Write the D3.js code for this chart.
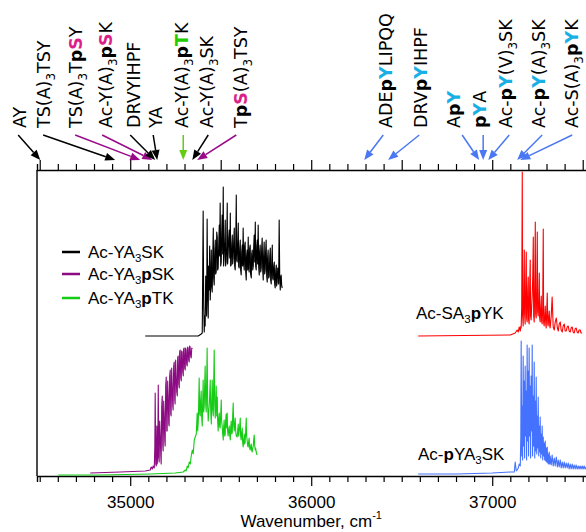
<!DOCTYPE html>
<html>
<head>
<meta charset="utf-8">
<script src="https://cdn.jsdelivr.net/npm/d3@7"></script>
<style>
  body { margin: 0; background: #fff; }
  svg { display: block; font-family: "Liberation Sans", Arial, sans-serif; }
</style>
</head>
<body>
<div id="chart"></div>
<script>
// traces: [wavenumber cm-1, intensity arb.]
const ysk = [[35083,0],[35376,0],[35392,2],[35398,3],[35403,125],[35406,30],[35409,4],[35411,20],[35414,10],[35417,60],
  [35420,36],[35422,20],[35425,117],[35428,40],[35431,18],[35433,70],[35436,46],[35439,90],[35442,36],[35445,55],
  [35448,86],[35450,50],[35453,44],[35456,80],[35459,108],[35461,58],[35464,51],[35467,85],[35470,96],[35472,62],
  [35475,64],[35478,104],[35481,99],[35483,66],[35486,68],[35489,92],[35492,111],[35494,80],[35497,133],[35500,70],
  [35503,74],[35505,100],[35508,121],[35511,82],[35514,149],[35516,70],[35519,78],[35522,95],[35525,116],[35527,70],
  [35530,74],[35533,90],[35536,133],[35538,72],[35541,81],[35544,98],[35547,106],[35550,78],[35553,123],[35555,70],
  [35558,71],[35561,92],[35564,101],[35566,72],[35569,78],[35572,96],[35575,108],[35577,70],[35580,66],[35583,92],
  [35586,141],[35588,76],[35591,74],[35594,95],[35597,113],[35599,70],[35602,68],[35605,88],[35608,96],[35610,66],
  [35613,61],[35616,84],[35619,91],[35621,70],[35624,108],[35627,72],[35630,66],[35632,90],[35635,94],[35638,64],
  [35641,56],[35643,80],[35646,86],[35649,66],[35652,99],[35654,70],[35657,64],[35660,88],[35663,91],[35665,62],
  [35669,58],[35671,82],[35674,86],[35677,66],[35680,70],[35682,88],[35685,101],[35688,74],[35691,114],[35693,70],
  [35696,66],[35699,90],[35702,96],[35704,72],[35707,111],[35710,68],[35713,61],[35715,84],[35718,91],[35721,64],
  [35724,68],[35726,86],[35729,98],[35732,66],[35735,56],[35737,80],[35740,94],[35743,62],[35746,66],[35748,84],
  [35751,96],[35754,60],[35757,54],[35759,78],[35762,86],[35765,58],[35768,60],[35771,80],[35774,88],[35776,56],
  [35779,52],[35782,76],[35785,91],[35787,58],[35790,56],[35793,70],[35796,74],[35798,52],[35801,48],[35804,66],
  [35807,71],[35809,50],[35812,54],[35815,68],[35818,66],[35820,52],[35823,116],[35826,60],[35829,46],[35831,58],
  [35834,61],[35837,50],[35840,48]];

const ypsk = [[34779,3],[34945,4],[35083,5],[35111,6],[35116,9],[35122,7],[35127,10],[35133,8],[35136,30],[35138,83],
  [35141,12],[35144,10],[35147,50],[35149,12],[35152,20],[35155,91],[35158,18],[35160,14],[35163,55],[35166,40],
  [35169,20],[35171,12],[35174,70],[35177,80],[35180,30],[35182,25],[35185,75],[35188,60],[35191,35],[35193,30],
  [35196,90],[35199,99],[35202,45],[35204,45],[35207,95],[35210,80],[35213,52],[35215,50],[35218,100],[35221,106],
  [35224,62],[35226,60],[35229,108],[35232,90],[35235,70],[35237,66],[35240,110],[35243,114],[35246,76],[35248,72],
  [35251,116],[35254,100],[35257,84],[35260,80],[35262,118],[35265,120],[35268,92],[35271,88],[35273,124],[35276,126],
  [35279,98],[35282,95],[35284,125],[35287,124],[35290,104],[35293,100],[35295,127],[35298,128],[35301,108],[35304,106],
  [35306,128],[35309,126],[35312,112],[35315,110],[35317,129],[35320,128],[35323,116],[35326,114],[35328,130],[35331,129],
  [35334,120],[35337,118],[35340,128],[35343,127]];

const yptk = [[34602,1],[34834,1],[35111,2],[35249,3],[35293,4],[35304,6],[35309,5],[35315,10],[35320,8],[35326,14],
  [35332,12],[35337,20],[35343,26],[35348,22],[35354,36],[35359,39],[35365,42],[35370,63],[35373,45],[35376,55],
  [35378,70],[35381,98],[35384,62],[35387,60],[35389,75],[35392,85],[35395,58],[35398,50],[35400,70],[35403,96],
  [35406,64],[35409,70],[35411,88],[35414,110],[35417,72],[35420,64],[35422,90],[35425,128],[35428,70],[35431,55],
  [35433,62],[35436,69],[35439,80],[35442,96],[35445,64],[35448,52],[35450,70],[35453,96],[35456,66],[35459,60],
  [35461,90],[35464,126],[35467,72],[35470,58],[35472,70],[35475,90],[35478,60],[35481,79],[35483,55],[35486,45],
  [35489,58],[35492,63],[35494,50],[35497,48],[35500,62],[35503,76],[35505,55],[35508,50],[35511,42],[35514,36],
  [35516,48],[35519,56],[35522,40],[35525,42],[35527,55],[35530,62],[35533,48],[35536,63],[35538,45],[35541,40],
  [35544,46],[35547,50],[35550,40],[35553,36],[35555,48],[35558,55],[35561,42],[35564,44],[35566,60],[35569,73],
  [35572,50],[35575,45],[35577,52],[35580,58],[35583,44],[35586,40],[35591,39],[35594,46],[35597,52],[35599,40],
  [35602,44],[35605,50],[35608,58],[35610,40],[35613,36],[35616,44],[35619,48],[35621,34],[35624,29],[35627,36],
  [35630,42],[35632,32],[35635,34],[35638,45],[35641,58],[35643,40],[35646,36],[35649,30],[35652,29],[35654,34],
  [35657,38],[35660,28],[35663,26],[35666,30],[35669,32],[35671,26],[35674,24],[35677,28],[35680,30],[35682,36],
  [35685,41],[35688,30],[35691,26],[35693,28],[35696,24],[35699,22],[35702,21]];

const sapyk = [[36591,0],[37100,1],[37127,3],[37138,6],[37144,4],[37149,9],[37155,5],[37158,10],[37160,8],[37163,30],
  [37166,164],[37168,20],[37171,10],[37174,40],[37177,86],[37179,22],[37182,12],[37185,50],[37188,84],[37190,18],
  [37193,14],[37196,45],[37199,59],[37201,16],[37204,12],[37207,50],[37210,76],[37212,20],[37215,16],[37218,30],
  [37221,40],[37224,60],[37227,99],[37229,20],[37232,14],[37235,50],[37238,114],[37240,22],[37243,18],[37246,45],
  [37249,104],[37251,24],[37254,20],[37257,35],[37260,63],[37262,18],[37265,14],[37268,28],[37271,40],[37273,15],
  [37276,12],[37279,30],[37282,107],[37284,14],[37287,10],[37290,20],[37293,30],[37296,12],[37298,8],[37301,22],
  [37304,43],[37307,12],[37309,10],[37312,18],[37315,25],[37318,10],[37320,8],[37326,20],[37331,39],[37337,9],
  [37343,6],[37348,14],[37354,18],[37360,8],[37365,5],[37370,12],[37376,14],[37381,6],[37387,4],[37392,10],
  [37398,12],[37403,5],[37409,5],[37414,9],[37420,10],[37425,5],[37431,4],[37436,8],[37442,9],[37447,4],
  [37453,3],[37458,7],[37464,8],[37469,4],[37475,3],[37480,6],[37486,6],[37491,3],[37497,3]];

const pyask = [[36591,2],[36800,2],[37000,3],[37100,4],[37122,4],[37127,14],[37133,5],[37138,6],[37144,8],[37149,12],
  [37155,10],[37158,40],[37160,135],[37163,20],[37166,70],[37168,16],[37171,120],[37174,30],[37177,95],[37179,18],
  [37182,110],[37185,40],[37188,85],[37190,16],[37193,131],[37196,35],[37199,105],[37201,20],[37204,128],[37207,40],
  [37210,90],[37212,18],[37215,100],[37218,45],[37221,131],[37223,20],[37227,80],[37229,30],[37232,114],[37235,18],
  [37238,75],[37240,25],[37243,99],[37246,22],[37249,60],[37251,28],[37254,79],[37257,20],[37260,50],[37262,24],
  [37265,59],[37268,18],[37271,42],[37273,22],[37276,50],[37279,16],[37282,39],[37284,20],[37287,33],[37290,16],
  [37293,35],[37296,15],[37298,28],[37301,14],[37304,29],[37307,13],[37309,22],[37312,12],[37315,24],[37318,12],
  [37320,20],[37326,11],[37331,21],[37337,10],[37343,18],[37348,10],[37354,19],[37360,9],[37365,16],[37370,9],
  [37376,16],[37381,8],[37387,14],[37392,8],[37398,14],[37403,8],[37409,13],[37414,8],[37420,13],[37425,7],
  [37431,12],[37436,7],[37442,12],[37447,7],[37453,11],[37458,7],[37464,11],[37469,7],[37475,10],[37480,7],
  [37486,10],[37491,7],[37497,10],[37502,7],[37508,10],[37513,7],[37519,9]];

const seriesNames = ["Ac-YA_3SK", "Ac-YA_3*pSK", "Ac-YA_3*pTK", "Ac-SA_3*pYK", "Ac-*pYA_3SK"];
const seriesData = [ysk, ypsk, yptk, sapyk, pyask];
const seriesOffsets = [140, 0, 0, 140, 0];
const seriesColors = ["#000000", "#8c0a82", "#14cc14", "#ff0000", "#4472ff"];

// band assignments on top: label text, arrow tail and tip (cm-1), group
const peptides = ["AY", "TS(A)_3TSY", "TS(A)_3T*p^SY", "Ac-Y(A)_3*p^SK", "DRVYIHPF", "YA", "Ac-Y(A)_3*p^TK",
  "Ac-Y(A)_3SK", "T*p^S(A)_3TSY", "ADE*p^YLIPQQ", "DRV*p^YIHPF", "A*p^Y", "*p^YA", "Ac-*p^Y(V)_3SK",
  "Ac-*p^Y(A)_3SK", "Ac-S(A)_3*p^YK"];
const labelAt = [34425, 34558, 34735, 34901, 35055, 35177, 35320, 35459, 35646, 36448, 36641, 36823, 36967, 37111, 37293, 37475];
const arrowFrom = [34381, 34519, 34696, 34845, 35000, 35127, 35293, 35431, 35586, 36398, 36597, 36834, 36950, 37094, 37276, 37442];
const arrowTo = [34503, 34917, 35055, 35122, 35138, 35149, 35293, 35343, 35370, 36293, 36425, 36928, 36950, 36978, 37138, 37155];
const groups = ["none", "none", "pS", "pS", "none", "none", "pT", "none", "pS", "pY", "pY", "pY", "pY", "pY", "pY", "pY"];
const arrowColor = { none: "#000000", pS: "#990a88", pT: "#66cc11", pY: "#4a78f2" };
const markColor = { none: "#000000", pS: "#dd1f8a", pT: "#22cc00", pY: "#1ab0e6" };

const W = 586, H = 532;
const mLeft = 37, mTop = 170, mBottom = 476;

const x = d3.scaleLinear().domain([34485, 37800]).range([mLeft, mLeft + (37800 - 34485) * 0.181]);
const y = d3.scaleLinear().domain([0, 306]).range([mBottom, mTop]);

const svg = d3.select("#chart").append("svg").attr("width", W).attr("height", H);

function richText(text, str, size, hl) {
  let shift = 0;
  for (let i = 0; i < str.length; i++) {
    let c = str[i], kind = "n";
    if (c === "_" || c === "*" || c === "^") { kind = c; c = str[++i]; }
    const t = text.append("tspan").text(c);
    let dy = -shift; shift = 0;
    if (kind === "_") { t.attr("font-size", size * 0.68); dy += size * 0.26; shift = size * 0.26; }
    if (kind === "*") t.attr("font-weight", "bold");
    if (kind === "^") t.attr("font-weight", "bold").attr("fill", hl);
    if (dy) t.attr("dy", dy);
  }
}

// axes
const ticks = d3.range(34500, 37801, 100);
const xAxis = d3.axisBottom(x).tickValues(ticks).tickSizeOuter(0)
  .tickSize(6).tickFormat(d => d % 1000 === 0 ? d : "");
const gx = svg.append("g").attr("transform", `translate(0,${mBottom})`).call(xAxis);
gx.selectAll(".tick line").filter(d => d % 1000 === 0).attr("y2", 10);
gx.selectAll(".tick text").attr("y", 20).attr("font-size", 17).attr("font-family", "Liberation Sans, Arial").attr("fill", "#000");

const xTop = d3.axisTop(x).tickValues(ticks).tickSizeOuter(0).tickSize(6).tickFormat("");
const gt = svg.append("g").attr("transform", `translate(0,${mTop})`).call(xTop);
gt.selectAll(".tick line").filter(d => d % 500 === 0).attr("y2", -10);

svg.selectAll(".domain").attr("stroke", "#000").attr("stroke-width", 1.4);
svg.selectAll(".tick line").attr("stroke", "#000").attr("stroke-width", 1.2);

svg.append("line").attr("x1", mLeft).attr("x2", mLeft).attr("y1", mTop).attr("y2", mBottom)
  .attr("stroke", "#000").attr("stroke-width", 1.4);

const title = svg.append("text").attr("x", x(36000)).attr("y", 527).attr("text-anchor", "middle")
  .attr("font-size", 17).attr("fill", "#000");
title.append("tspan").text("Wavenumber, cm");
title.append("tspan").attr("font-size", 11).attr("dy", -8).text("-1");

// spectra
const line = d3.line().x(d => x(d[0])).y(d => y(d[1]));
seriesData.forEach((data, i) => {
  svg.append("path")
    .datum(data.map(d => [d[0], d[1] + seriesOffsets[i]]))
    .attr("d", line).attr("fill", "none")
    .attr("stroke", seriesColors[i]).attr("stroke-width", 1.1).attr("stroke-linejoin", "round");
});

// legend for the first three
[252, 274, 298].forEach((ly, i) => {
  svg.append("line").attr("x1", 62).attr("x2", 80).attr("y1", ly).attr("y2", ly)
    .attr("stroke", seriesColors[i]).attr("stroke-width", 2.5);
  const t = svg.append("text").attr("x", 88).attr("y", ly + 6).attr("font-size", 17).attr("fill", "#000");
  richText(t, seriesNames[i], 17, "#000");
});

// direct labels
const lab1 = svg.append("text").attr("x", 416).attr("y", 319).attr("font-size", 17).attr("fill", "#000");
richText(lab1, seriesNames[3], 17, "#000");
const lab2 = svg.append("text").attr("x", 418).attr("y", 460).attr("font-size", 17).attr("fill", "#000");
richText(lab2, seriesNames[4], 17, "#000");

// peptide labels with arrows
const tailY = 135, tipY = 160;
peptides.forEach((p, i) => {
  const g = groups[i];
  const t = svg.append("text")
    .attr("transform", `translate(${x(labelAt[i])},128) rotate(-90)`)
    .attr("font-family", "DejaVu Sans, Verdana, sans-serif")
    .attr("font-size", 17.5).attr("fill", "#000");
  richText(t, p, 17.5, markColor[g]);

  const x0 = x(arrowFrom[i]), x1 = x(arrowTo[i]);
  const dx = x1 - x0, dy = tipY - tailY, len = Math.hypot(dx, dy);
  const ux = dx / len, uy = dy / len;
  const hl = 10, hw = 4;
  const bx = x1 - ux * hl, by = tipY - uy * hl;
  svg.append("line").attr("x1", x0).attr("y1", tailY).attr("x2", bx).attr("y2", by)
    .attr("stroke", arrowColor[g]).attr("stroke-width", 1.5);
  svg.append("path")
    .attr("d", `M${x1},${tipY}L${bx - uy * hw},${by + ux * hw}L${bx + uy * hw},${by - ux * hw}Z`)
    .attr("fill", arrowColor[g]);
});
</script>
</body>
</html>
